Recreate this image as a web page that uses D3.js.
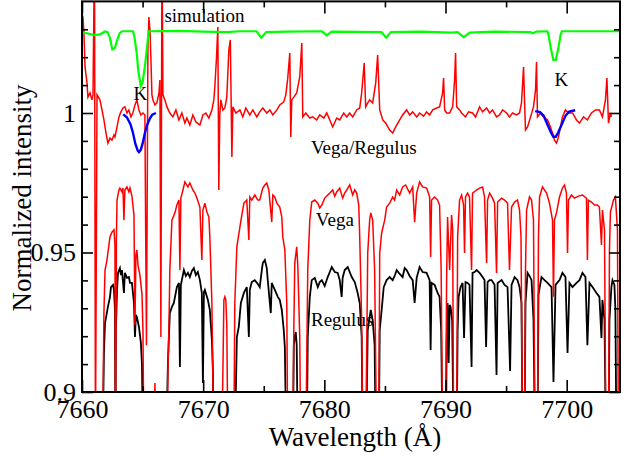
<!DOCTYPE html>
<html><head><meta charset="utf-8">
<script src="https://cdn.jsdelivr.net/npm/d3@7/dist/d3.min.js"></script>
<style>body{margin:0;background:#fff}svg{display:block}text{font-family:"Liberation Serif","Times New Roman",serif}</style>
</head><body>
<svg id="chart" width="626" height="456"></svg>
<script>
// ---- data (wavelength in Å, normalized intensity) ----
const wavelengthTicks = [7660, 7670, 7680, 7690, 7700];
const wavelengthMinorTicks = [7665, 7675, 7685, 7695];
const intensityTicks = [0.9, 0.95, 1];
const intensityMinorTicks = [0.91, 0.92, 0.93, 0.94, 0.96, 0.97, 0.98, 0.99, 1.01, 1.02, 1.03];

const simulation = [[7660.0,1.0288],[7660.5,1.0285],[7661.0,1.0279],[7661.5,1.0282],[7661.9,1.0292],[7662.1,1.029],[7662.3,1.027],[7662.5,1.0228],[7662.7,1.0232],[7662.9,1.026],[7663.1,1.0285],[7663.3,1.0293],[7664.2,1.0293],[7664.3,1.028],[7664.5,1.022],[7664.65,1.015],[7664.85,1.0097],[7665.0,1.011],[7665.2,1.017],[7665.4,1.025],[7665.5,1.0293],[7668,1.0294],[7670,1.0292],[7672,1.0290],[7673,1.0293],[7674.4,1.0293],[7674.8,1.0270],[7675.2,1.0290],[7677,1.0292],[7679.8,1.0293],[7680.2,1.0278],[7680.6,1.0292],[7684.7,1.029],[7685.1,1.027],[7685.5,1.029],[7688,1.0292],[7690.5,1.0288],[7691.0,1.029],[7691.5,1.0272],[7692.0,1.0288],[7694,1.0292],[7697.0,1.0290],[7697.2,1.0286],[7697.5,1.0292],[7698.4,1.0293],[7698.5,1.028],[7698.7,1.023],[7698.9,1.019],[7699.1,1.019],[7699.3,1.023],[7699.5,1.028],[7699.6,1.0293],[7704.4,1.0293]];

const fitK1 = [[7663.4,0.9995],[7663.7,0.9985],[7664.0,0.996],[7664.2,0.993],[7664.4,0.989],[7664.6,0.9865],[7664.7,0.986],[7664.85,0.9868],[7665.0,0.989],[7665.2,0.993],[7665.4,0.996],[7665.6,0.998],[7665.8,0.9994],[7666.1,1.0]];
const fitK2 = [[7697.4,1.0007],[7697.8,1.0003],[7698.1,0.999],[7698.4,0.996],[7698.7,0.993],[7698.9,0.9915],[7699.1,0.9915],[7699.3,0.993],[7699.6,0.996],[7699.9,0.999],[7700.2,1.0005],[7700.7,1.001]];

const ratio = [[7660.04,1.035],[7660.08,1.0344],[7660.16,1.0287],[7660.25,1.0165],[7660.41,1.0108],[7660.49,1.0057],[7660.66,1.0072],[7660.82,1.0047],[7660.91,1.0065],[7661.03,1.06],[7661.11,0.88],[7661.24,1.0065],[7661.48,1.0047],[7661.65,1.0011],[7661.81,0.9975],[7661.98,0.9928],[7662.14,0.9892],[7662.31,0.991],[7662.47,0.9903],[7662.64,0.9921],[7662.72,0.9914],[7662.89,0.995],[7663.05,0.9986],[7663.21,1.0004],[7663.38,1.0018],[7663.54,1.0022],[7663.71,1.0],[7663.87,1.0011],[7664.04,0.9986],[7664.20,1.0],[7664.37,1.0029],[7664.53,1.0047],[7664.70,1.0011],[7664.86,0.9993],[7665.03,1.0],[7665.19,0.9993],[7665.32,0.9168],[7665.44,1.0226],[7665.52,1.0344],[7665.61,1.0297],[7665.69,1.019],[7665.77,1.0065],[7665.85,1.0047],[7666.02,1.0029],[7666.18,1.0036],[7666.35,1.0072],[7666.43,1.0118],[7666.51,0.9197],[7666.60,1.06],[7666.68,1.0065],[7666.84,1.0047],[7667.01,1.0022],[7667.25,1.0],[7667.50,0.9986],[7667.75,1.0011],[7668.00,0.9975],[7668.24,1.0],[7668.49,0.9964],[7668.66,0.9982],[7668.90,0.9957],[7669.15,0.9993],[7669.40,0.9968],[7669.73,0.9957],[7669.98,0.9993],[7670.22,1.0],[7670.47,0.9982],[7670.72,1.0011],[7670.88,1.0047],[7670.96,1.0093],[7671.09,1.019],[7671.21,1.0308],[7671.29,0.9724],[7671.37,0.9993],[7671.46,1.0047],[7671.62,1.0011],[7671.79,1.0018],[7671.95,1.0057],[7672.12,1.0226],[7672.24,1.0262],[7672.37,0.9842],[7672.45,1.0022],[7672.70,1.0],[7673.03,1.0011],[7673.27,0.9986],[7673.52,1.0018],[7673.85,0.9993],[7674.10,1.0011],[7674.43,0.9986],[7674.67,1.0004],[7674.92,1.0018],[7675.25,1.0],[7675.50,1.0011],[7675.75,0.9993],[7676.08,1.0011],[7676.32,1.0029],[7676.65,1.004],[7676.82,1.0065],[7676.98,1.0125],[7677.15,1.0215],[7677.23,0.9914],[7677.31,1.0047],[7677.48,1.0057],[7677.72,1.0072],[7677.97,1.0129],[7678.14,1.0251],[7678.22,0.9986],[7678.47,1.0],[7678.80,0.9982],[7679.04,0.9986],[7679.37,0.9975],[7679.62,0.9993],[7679.95,0.9982],[7680.20,1.0],[7680.45,0.9975],[7680.69,0.995],[7681.02,0.9982],[7681.27,0.9975],[7681.60,1.0],[7681.85,0.9986],[7682.09,1.0],[7682.34,0.9986],[7682.67,1.0011],[7682.92,1.0018],[7683.08,1.0072],[7683.29,1.0179],[7683.41,1.0022],[7683.58,1.0036],[7683.74,1.0047],[7683.99,1.0036],[7684.24,1.0108],[7684.40,1.0208],[7684.57,1.0011],[7684.82,0.9975],[7685.06,0.9964],[7685.39,0.9939],[7685.64,0.9928],[7685.89,0.995],[7686.22,0.9975],[7686.46,0.9993],[7686.79,1.0011],[7687.04,0.9993],[7687.29,1.0004],[7687.62,0.9986],[7687.86,1.0],[7688.19,0.9989],[7688.44,1.0004],[7688.69,0.9993],[7688.94,1.0011],[7689.27,1.0018],[7689.51,1.0022],[7689.76,1.0072],[7689.84,1.0125],[7689.93,1.0011],[7690.09,1.0],[7690.34,1.0],[7690.59,1.0022],[7690.75,1.0118],[7690.83,1.0215],[7690.92,1.0022],[7691.16,1.0011],[7691.33,1.0],[7691.65,0.9986],[7691.90,1.0004],[7692.23,1.0],[7692.48,0.9986],[7692.81,1.0022],[7693.06,1.0004],[7693.39,1.0018],[7693.64,1.0],[7693.88,1.0011],[7694.21,0.9986],[7694.46,0.9993],[7694.71,1.0011],[7695.04,1.0],[7695.28,0.9986],[7695.53,1.0],[7695.86,0.9993],[7696.11,1.0],[7696.27,1.0036],[7696.44,1.0165],[7696.52,1.0047],[7696.60,0.9939],[7696.77,0.995],[7697.02,0.9986],[7697.26,1.0022],[7697.43,1.0083],[7697.51,1.0183],[7697.59,0.9986],[7697.84,1.0],[7698.09,0.9986],[7698.42,0.9975],[7698.66,0.995],[7698.83,0.9928],[7698.99,0.9903],[7699.16,0.9892],[7699.32,0.9914],[7699.49,0.995],[7699.65,0.9986],[7699.90,1.0011],[7700.15,1.0],[7700.48,1.0],[7700.81,0.9975],[7701.06,0.9964],[7701.39,0.9986],[7701.71,0.9975],[7702.04,1.0],[7702.37,1.0011],[7702.70,1.0011],[7702.95,0.9986],[7703.20,1.0047],[7703.32,1.0125],[7703.45,0.9964],[7703.61,1.0],[7703.69,0.9986]];

const vega = [[7660.0,0.88],[7661.70,0.88],[7661.81,0.9283],[7661.90,0.9437],[7662.06,0.9473],[7662.31,0.9556],[7662.47,0.9573],[7662.64,0.9581],[7662.72,0.9527],[7662.76,0.88],[7662.84,0.955],[7662.89,0.9688],[7663.05,0.9724],[7663.13,0.9731],[7663.30,0.9717],[7663.38,0.9731],[7663.46,0.9616],[7663.54,0.9724],[7663.71,0.9735],[7663.87,0.9717],[7663.96,0.9731],[7664.12,0.9702],[7664.20,0.967],[7664.29,0.9634],[7664.37,0.924],[7664.45,0.949],[7664.53,0.9509],[7664.62,0.9455],[7664.78,0.9419],[7664.95,0.935],[7665.03,0.9222],[7665.11,0.88],[7665.92,0.88],[7666.02,0.9032],[7666.10,0.88],[7667.00,0.88],[7667.09,0.9079],[7667.17,0.9222],[7667.25,0.9437],[7667.42,0.9616],[7667.67,0.9642],[7667.83,0.967],[7668.00,0.9688],[7668.08,0.9437],[7668.16,0.9695],[7668.33,0.9724],[7668.49,0.9753],[7668.74,0.9735],[7668.90,0.9749],[7669.15,0.9724],[7669.32,0.9713],[7669.48,0.9695],[7669.73,0.9663],[7669.89,0.9473],[7669.98,0.9652],[7670.14,0.9677],[7670.31,0.9645],[7670.47,0.9627],[7670.55,0.9556],[7670.72,0.9319],[7670.88,0.88],[7671.54,0.88],[7671.71,0.9330],[7671.79,0.9341],[7671.87,0.9330],[7671.95,0.924],[7672.04,0.88],[7672.53,0.88],[7672.61,0.9319],[7672.78,0.952],[7673.03,0.9591],[7673.19,0.9634],[7673.36,0.9677],[7673.60,0.9688],[7673.77,0.9545],[7673.85,0.9699],[7674.01,0.9688],[7674.26,0.9706],[7674.51,0.9688],[7674.67,0.9688],[7674.92,0.9731],[7675.09,0.9742],[7675.25,0.9749],[7675.42,0.9724],[7675.66,0.9609],[7675.75,0.9706],[7675.91,0.9699],[7676.08,0.9677],[7676.32,0.9663],[7676.49,0.9627],[7676.57,0.9556],[7676.74,0.9509],[7676.90,0.9319],[7676.98,0.88],[7677.40,0.88],[7677.48,0.9222],[7677.56,0.9462],[7677.72,0.952],[7677.81,0.9455],[7677.97,0.9197],[7678.05,0.88],[7678.47,0.88],[7678.63,0.9437],[7678.80,0.9616],[7678.96,0.9681],[7679.21,0.9688],[7679.46,0.9677],[7679.62,0.966],[7679.79,0.967],[7680.03,0.9695],[7680.28,0.9706],[7680.45,0.9713],[7680.69,0.9724],[7680.86,0.9702],[7681.02,0.9717],[7681.27,0.9731],[7681.51,0.9695],[7681.68,0.9713],[7681.85,0.9724],[7682.09,0.9742],[7682.34,0.9706],[7682.51,0.9724],[7682.67,0.9713],[7682.84,0.967],[7682.92,0.9556],[7683.08,0.9258],[7683.17,0.88],[7683.41,0.88],[7683.58,0.9498],[7683.74,0.9616],[7683.83,0.9642],[7683.99,0.9616],[7684.15,0.9437],[7684.32,0.88],[7684.49,0.88],[7684.57,0.9498],[7684.73,0.957],[7684.98,0.9616],[7685.14,0.9663],[7685.39,0.9677],[7685.64,0.9699],[7685.80,0.9688],[7685.97,0.9724],[7686.22,0.9706],[7686.46,0.9735],[7686.71,0.9742],[7687.04,0.9713],[7687.29,0.9735],[7687.45,0.9609],[7687.62,0.9713],[7687.86,0.9753],[7688.11,0.9735],[7688.44,0.9731],[7688.69,0.9699],[7688.77,0.9484],[7688.85,0.9688],[7689.10,0.9699],[7689.35,0.9688],[7689.51,0.967],[7689.64,0.9437],[7689.76,0.88],[7690.00,0.88],[7690.09,0.9401],[7690.17,0.9627],[7690.34,0.9437],[7690.50,0.9634],[7690.59,0.9581],[7690.67,0.88],[7690.92,0.88],[7691.00,0.9556],[7691.16,0.9688],[7691.33,0.9706],[7691.49,0.967],[7691.57,0.9498],[7691.65,0.9699],[7691.82,0.9713],[7691.98,0.9699],[7692.15,0.9437],[7692.23,0.9713],[7692.56,0.9724],[7692.81,0.9731],[7693.06,0.9735],[7693.22,0.9699],[7693.39,0.9462],[7693.47,0.9688],[7693.64,0.9713],[7693.88,0.9695],[7694.05,0.9677],[7694.21,0.9427],[7694.30,0.9681],[7694.63,0.9695],[7694.87,0.9688],[7695.12,0.9677],[7695.28,0.9437],[7695.45,0.9663],[7695.70,0.9681],[7695.94,0.9688],[7696.11,0.9652],[7696.23,0.9556],[7696.36,0.88],[7696.52,0.88],[7696.60,0.9437],[7696.69,0.9652],[7696.93,0.9699],[7697.10,0.9688],[7697.26,0.9616],[7697.39,0.88],[7697.59,0.88],[7697.67,0.9556],[7697.76,0.9699],[7698.00,0.9735],[7698.34,0.9713],[7698.58,0.9677],[7698.83,0.9616],[7698.91,0.9341],[7698.99,0.9616],[7699.16,0.9642],[7699.41,0.9699],[7699.65,0.9731],[7699.82,0.9742],[7699.98,0.9713],[7700.07,0.9498],[7700.15,0.9688],[7700.40,0.9706],[7700.64,0.9695],[7700.97,0.9702],[7701.30,0.9706],[7701.63,0.9695],[7701.71,0.9473],[7701.79,0.9688],[7702.04,0.9681],[7702.29,0.967],[7702.54,0.967],[7702.70,0.9663],[7702.87,0.9527],[7702.95,0.9652],[7703.12,0.9581],[7703.24,0.88],[7703.45,0.88],[7703.53,0.9509],[7703.61,0.9645],[7703.86,0.9688],[7704.02,0.9699],[7704.19,0.9581],[7704.27,0.88],[7704.40,0.88]];

const regulus = [[7660.0,0.88],[7661.70,0.88],[7661.81,0.914],[7661.90,0.9247],[7662.14,0.9305],[7662.31,0.9341],[7662.39,0.9376],[7662.56,0.9384],[7662.64,0.9366],[7662.72,0.9294],[7662.76,0.88],[7662.80,0.9222],[7662.89,0.9366],[7662.97,0.9427],[7663.13,0.9444],[7663.21,0.9419],[7663.30,0.9437],[7663.46,0.9355],[7663.54,0.9427],[7663.71,0.9409],[7663.87,0.9412],[7663.96,0.9391],[7664.12,0.9391],[7664.29,0.9319],[7664.37,0.9197],[7664.45,0.9276],[7664.53,0.9269],[7664.70,0.9233],[7664.86,0.9176],[7664.95,0.9097],[7665.03,0.88],[7666.95,0.88],[7667.09,0.9104],[7667.25,0.9283],[7667.42,0.9305],[7667.58,0.9319],[7667.83,0.9376],[7668.00,0.9391],[7668.08,0.909],[7668.16,0.9384],[7668.24,0.9401],[7668.41,0.9437],[7668.57,0.9416],[7668.74,0.9427],[7668.90,0.9412],[7669.07,0.9434],[7669.23,0.9444],[7669.40,0.9419],[7669.56,0.943],[7669.73,0.9401],[7669.89,0.9355],[7669.98,0.9032],[7670.06,0.9358],[7670.14,0.9366],[7670.39,0.933],[7670.55,0.9294],[7670.72,0.9186],[7670.80,0.9079],[7670.88,0.88],[7672.61,0.88],[7672.78,0.9197],[7672.94,0.9233],[7673.11,0.9319],[7673.36,0.9355],[7673.60,0.9376],[7673.77,0.9197],[7673.85,0.9366],[7674.01,0.9394],[7674.26,0.9401],[7674.51,0.9387],[7674.67,0.9376],[7674.84,0.9437],[7674.92,0.9462],[7675.09,0.9473],[7675.25,0.9444],[7675.33,0.9401],[7675.58,0.9283],[7675.66,0.9391],[7675.91,0.9366],[7676.16,0.9341],[7676.32,0.933],[7676.49,0.9294],[7676.65,0.9222],[7676.74,0.9161],[7676.86,0.88],[7677.40,0.88],[7677.48,0.9168],[7677.56,0.9197],[7677.64,0.9215],[7677.72,0.9168],[7677.81,0.88],[7678.55,0.88],[7678.63,0.9197],[7678.80,0.9341],[7678.96,0.9401],[7679.21,0.9409],[7679.46,0.9376],[7679.62,0.9394],[7679.79,0.9401],[7680.03,0.938],[7680.28,0.9412],[7680.45,0.943],[7680.61,0.9448],[7680.86,0.943],[7681.10,0.9427],[7681.27,0.9401],[7681.43,0.9341],[7681.51,0.9409],[7681.68,0.9437],[7681.93,0.9448],[7682.09,0.943],[7682.26,0.9412],[7682.51,0.9394],[7682.75,0.9355],[7682.92,0.9319],[7683.08,0.9197],[7683.17,0.88],[7683.45,0.88],[7683.58,0.9222],[7683.83,0.9294],[7683.99,0.9258],[7684.15,0.9168],[7684.24,0.88],[7684.49,0.88],[7684.57,0.9222],[7684.73,0.9294],[7684.90,0.9376],[7685.14,0.9401],[7685.39,0.9412],[7685.64,0.9401],[7685.80,0.9416],[7685.97,0.9437],[7686.22,0.9423],[7686.46,0.9412],[7686.63,0.9444],[7686.79,0.9437],[7687.04,0.9416],[7687.29,0.9401],[7687.45,0.9319],[7687.62,0.9409],[7687.86,0.9448],[7688.11,0.943],[7688.44,0.9427],[7688.69,0.9401],[7688.77,0.9151],[7688.85,0.9391],[7689.10,0.9384],[7689.35,0.9355],[7689.51,0.9341],[7689.64,0.9222],[7689.76,0.88],[7690.04,0.88],[7690.09,0.9176],[7690.17,0.9319],[7690.26,0.9104],[7690.34,0.9312],[7690.42,0.9305],[7690.55,0.9258],[7690.67,0.88],[7690.92,0.88],[7691.00,0.9222],[7691.08,0.9341],[7691.24,0.9376],[7691.41,0.9391],[7691.53,0.9194],[7691.65,0.9394],[7691.82,0.9391],[7691.98,0.9384],[7692.15,0.909],[7692.23,0.9427],[7692.40,0.943],[7692.56,0.9437],[7692.81,0.9427],[7693.06,0.9412],[7693.22,0.9401],[7693.35,0.9161],[7693.47,0.9394],[7693.64,0.9401],[7693.80,0.9401],[7694.05,0.9384],[7694.21,0.9061],[7694.30,0.9391],[7694.63,0.9401],[7694.87,0.9384],[7695.12,0.9376],[7695.33,0.9075],[7695.45,0.9384],[7695.70,0.9412],[7695.94,0.9401],[7696.11,0.9376],[7696.27,0.9319],[7696.36,0.88],[7696.52,0.88],[7696.60,0.9319],[7696.77,0.9427],[7696.93,0.9416],[7697.10,0.9401],[7697.26,0.9258],[7697.39,0.88],[7697.59,0.88],[7697.67,0.9348],[7697.92,0.9412],[7698.17,0.9401],[7698.42,0.9391],[7698.75,0.9376],[7698.91,0.9036],[7699.08,0.9384],[7699.41,0.9401],[7699.65,0.9427],[7699.90,0.9412],[7700.07,0.914],[7700.23,0.9391],[7700.48,0.9376],[7700.81,0.9391],[7701.06,0.9401],[7701.30,0.9427],[7701.55,0.9412],[7701.71,0.9168],[7701.88,0.9391],[7702.13,0.9376],[7702.46,0.9355],[7702.70,0.9341],[7702.87,0.9194],[7702.95,0.933],[7703.12,0.9258],[7703.24,0.88],[7703.45,0.88],[7703.53,0.9258],[7703.69,0.9376],[7703.78,0.9401],[7703.94,0.9384],[7704.02,0.9294],[7704.11,0.88],[7704.40,0.88]];

// ---- drawing ----
const svg = d3.select("#chart");
const L = 82, R = 620, T = 1.4, B = 392;
const x = d3.scaleLinear().domain([7660, 7704.4]).range([L, R]);
const y = d3.scaleLinear().domain([0.9, 1.04]).range([B, T]);

svg.append("clipPath").attr("id", "clip").append("rect")
  .attr("x", L).attr("y", T).attr("width", R - L).attr("height", B - T);

const line = d3.line().x(d => x(d[0])).y(d => y(d[1]));
const plot = svg.append("g").attr("clip-path", "url(#clip)");

plot.append("path").datum(regulus).attr("d", line).attr("fill", "none").attr("stroke", "#000").attr("stroke-width", 1.8);
plot.append("path").datum(vega).attr("d", line).attr("fill", "none").attr("stroke", "#ff0000").attr("stroke-width", 1.5);
plot.append("path").datum(ratio).attr("d", line).attr("fill", "none").attr("stroke", "#ff0000").attr("stroke-width", 1.5);
plot.append("path").datum(simulation).attr("d", line).attr("fill", "none").attr("stroke", "#00ff00").attr("stroke-width", 2.2);
[fitK1, fitK2].forEach(f => plot.append("path").datum(f).attr("d", line).attr("fill", "none").attr("stroke", "#0000ff").attr("stroke-width", 2.4));

// annotations
const ann = [["simulation", 7666.8, 1.0325], ["K", 7664.25, 1.0046], ["K", 7699.0, 1.0098],
             ["Vega/Regulus", 7678.9, 0.9853], ["Vega", 7679.3, 0.9595], ["Regulus", 7678.9, 0.9236]];
ann.forEach(a => svg.append("text").attr("x", x(a[1])).attr("y", y(a[2])).attr("font-size", 19).attr("fill", "#000").text(a[0]));

// axes
const axisG = svg.append("g");
function styleAxis(g){ g.attr("font-family", null); g.select(".domain").remove(); g.selectAll("line").attr("stroke","#000").attr("stroke-width",1.6); g.selectAll("text").style("font-family","'Liberation Serif', serif").attr("font-size",26).attr("fill","#000"); }
axisG.append("g").attr("transform", `translate(0,${B})`)
  .call(d3.axisBottom(x).tickValues(wavelengthTicks).tickSize(-12).tickPadding(8).tickFormat(d3.format("d"))).call(styleAxis);
axisG.append("g").attr("transform", `translate(0,${B})`)
  .call(d3.axisBottom(x).tickValues(wavelengthMinorTicks).tickSize(-6).tickFormat("")).call(styleAxis);
axisG.append("g").attr("transform", `translate(0,${T})`)
  .call(d3.axisTop(x).tickValues(wavelengthTicks).tickSize(-12).tickFormat("")).call(styleAxis);
axisG.append("g").attr("transform", `translate(0,${T})`)
  .call(d3.axisTop(x).tickValues(wavelengthMinorTicks).tickSize(-6).tickFormat("")).call(styleAxis);
axisG.append("g").attr("transform", `translate(${L},0)`)
  .call(d3.axisLeft(y).tickValues(intensityTicks).tickSize(-11).tickPadding(6).tickFormat(d3.format("~g"))).call(styleAxis);
axisG.append("g").attr("transform", `translate(${L},0)`)
  .call(d3.axisLeft(y).tickValues(intensityMinorTicks).tickSize(-6).tickFormat("")).call(styleAxis);
axisG.append("g").attr("transform", `translate(${R},0)`)
  .call(d3.axisRight(y).tickValues(intensityTicks).tickSize(-11).tickFormat("")).call(styleAxis);
axisG.append("g").attr("transform", `translate(${R},0)`)
  .call(d3.axisRight(y).tickValues(intensityMinorTicks).tickSize(-6).tickFormat("")).call(styleAxis);

svg.append("rect").attr("x", L).attr("y", T).attr("width", R - L).attr("height", B - T)
  .attr("fill", "none").attr("stroke", "#000").attr("stroke-width", 2);

svg.append("text").attr("x", 355).attr("y", 446).attr("text-anchor", "middle").attr("font-size", 27).text("Wavelength (Å)");
svg.append("text").attr("transform", "translate(31,198) rotate(-90)").attr("text-anchor", "middle").attr("font-size", 27).text("Normalized intensity");
</script>
</body></html>
